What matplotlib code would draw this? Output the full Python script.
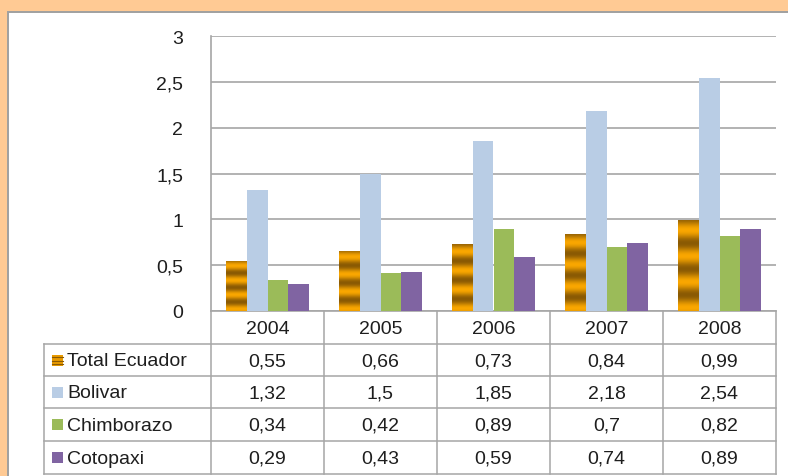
import numpy as np
import matplotlib
matplotlib.use("Agg")
import matplotlib.pyplot as plt
from matplotlib.patches import Rectangle
from matplotlib.colors import LinearSegmentedColormap

years = ["2004", "2005", "2006", "2007", "2008"]
series_names = ["Total Ecuador", "Bolivar", "Chimborazo", "Cotopaxi"]
total_ecuador = [0.55, 0.66, 0.73, 0.84, 0.99]
bolivar = [1.32, 1.5, 1.85, 2.18, 2.54]
chimborazo = [0.34, 0.42, 0.89, 0.7, 0.82]
cotopaxi = [0.29, 0.43, 0.59, 0.74, 0.89]
series_values = [total_ecuador, bolivar, chimborazo, cotopaxi]
yticks = [0, 0.5, 1, 1.5, 2, 2.5, 3]

colors = ["#E89A00", "#B9CDE5", "#9BBB59", "#8064A2"]
grid_c = "#A6A6A6"
txt_c = "#1E1E1E"
FONT = "Liberation Sans"
FS = 14

W, H = 788, 477
fig = plt.figure(figsize=(W / 100, H / 100), dpi=100, facecolor="#FFCA94")

# overlay for panel & table in pixel coords
ov = fig.add_axes([0, 0, 1, 1], zorder=0)
ov.set_xlim(0, W)
ov.set_ylim(H, 0)
ov.axis("off")
ov.add_patch(Rectangle((8, 13), W + 10, H + 10, facecolor="white",
                       edgecolor="#A0A0A0", lw=1.4))

L, R, T, B = 211, 776, 37, 312
ax = fig.add_axes([L / W, (H - B) / H, (R - L) / W, (B - T) / H], zorder=2)
ax.patch.set_alpha(0)
n = len(years)
ax.set_xlim(-0.5, n - 0.5)
ax.set_ylim(0, 3)
ax.set_yticks(yticks)
ax.set_yticklabels([("%g" % v).replace(".", ",") for v in yticks],
                   fontfamily=FONT, fontsize=FS, color=txt_c)
ax.tick_params(axis="y", length=0, pad=20)
ax.set_xticks([])
for s in ["top", "right"]:
    ax.spines[s].set_visible(False)
for s in ["left", "bottom"]:
    ax.spines[s].set_color(grid_c)
    ax.spines[s].set_linewidth(1.2)
ax.grid(axis="y", color=grid_c, lw=1.2)
ax.set_axisbelow(True)

bw = 0.182
x = np.arange(n)
stripe_cmap = LinearSegmentedColormap.from_list("st", ["#8A5A04", "#FAA700"])
for i, vals in enumerate(series_values):
    off = (i - 1.5) * bw
    bars = ax.bar(x + off, vals, width=bw, color=colors[i], zorder=3, lw=0)
    if i == 0:
        for b in bars:
            x0, y0 = b.get_x(), b.get_y()
            w, h = b.get_width(), b.get_height()
            t = np.linspace(0, 1, 200)
            prof = 0.5 + 0.5 * np.cos(2 * np.pi * (3.5 * t - 0.12))
            img = prof[:, None] * np.ones((1, 4))
            im = ax.imshow(img, extent=[x0, x0 + w, y0 + h, y0], cmap=stripe_cmap,
                           vmin=0, vmax=1, aspect="auto", zorder=4,
                           interpolation="bilinear")
            im.set_clip_path(b)
ax.set_xlim(-0.5, n - 0.5)
ax.set_ylim(0, 3)

# table
lw_t = 1.1
row_tops = [344.5, 377, 409, 441.5, 475]
col_w = (R - L) / n
col_x = [L + k * col_w for k in range(n + 1)]
for yy in row_tops:
    ov.plot([44, R], [yy, yy], color=grid_c, lw=lw_t)
for xx in col_x:
    ov.plot([xx, xx], [B, row_tops[-1]], color=grid_c, lw=lw_t)
ov.plot([44, 44], [row_tops[0], row_tops[-1]], color=grid_c, lw=lw_t)

for k, yr in enumerate(years):
    ov.text(col_x[k] + col_w / 2, (B + row_tops[0]) / 2 + 1, yr, ha="center",
            va="center", fontfamily=FONT, fontsize=FS, color=txt_c)
for r, name in enumerate(series_names):
    yc = (row_tops[r] + row_tops[r + 1]) / 2 + 1
    ov.add_patch(Rectangle((52, yc - 6), 11, 11, facecolor=colors[r], lw=0))
    if r == 0:
        for sy in [yc - 4, yc, yc + 3.5]:
            ov.plot([52, 63], [sy, sy], color="#8A5A04", lw=0.8)
    ov.text(67, yc, name, ha="left", va="center", fontfamily=FONT,
            fontsize=FS, color=txt_c)
    for k in range(n):
        s = ("%g" % series_values[r][k]).replace(".", ",")
        ov.text(col_x[k] + col_w / 2, yc, s, ha="center", va="center",
                fontfamily=FONT, fontsize=FS, color=txt_c)

fig.savefig("out.png", dpi=100, facecolor=fig.get_facecolor())
